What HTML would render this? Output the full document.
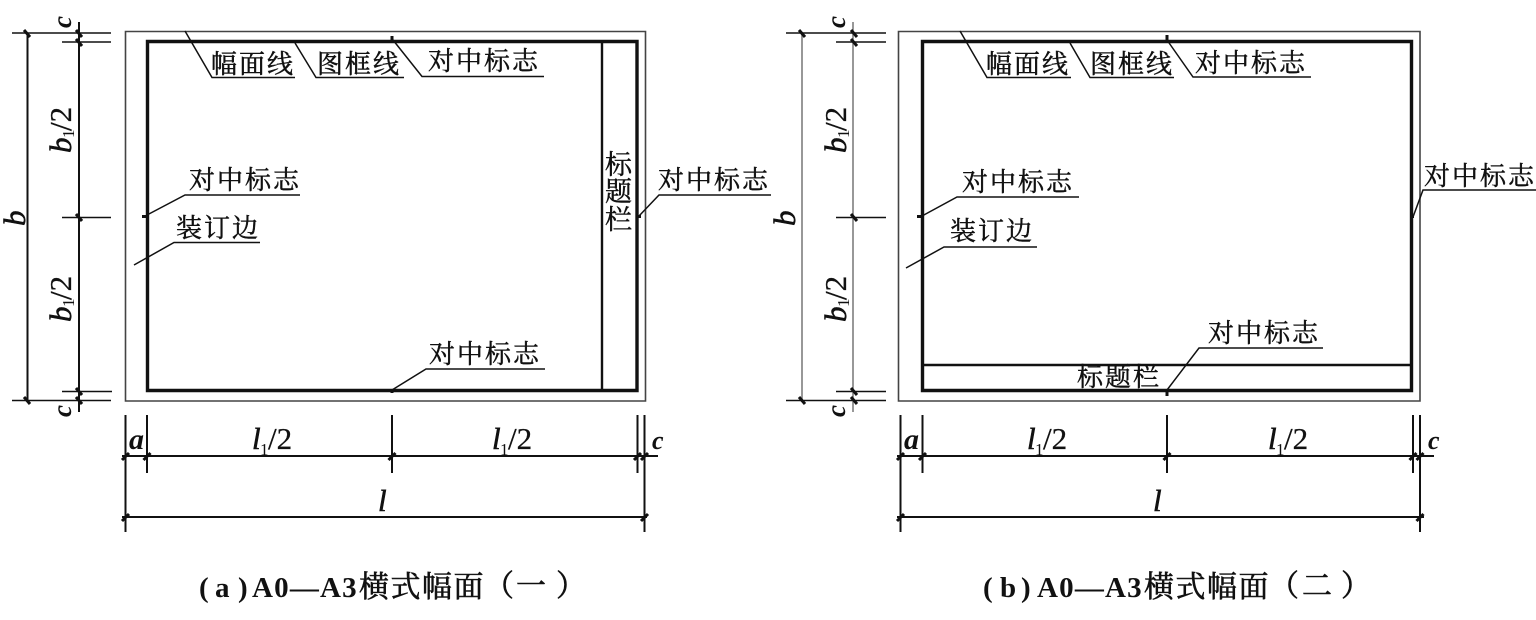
<!DOCTYPE html>
<html><head><meta charset="utf-8"><style>
html,body{margin:0;padding:0;background:#fff;width:1536px;height:620px;overflow:hidden}
svg{display:block}
.l{font-family:"Liberation Serif","Noto Serif CJK SC",serif;font-size:26px;letter-spacing:2px;fill:#111;stroke:#111;stroke-width:.45}
.v{font-family:"Liberation Serif","Noto Serif CJK SC",serif;font-size:27px;fill:#111;stroke:#111;stroke-width:.45}
.d{font-family:"Liberation Serif",serif;font-size:30px;fill:#111;font-style:italic;font-weight:bold}
.i{font-family:"Liberation Serif",serif;font-size:31px;fill:#111;font-style:italic;stroke:#111;stroke-width:.6}
.n{font-family:"Liberation Serif",serif;font-size:31px;fill:#111;stroke:#111;stroke-width:.3}
.s{font-family:"Liberation Serif",serif;font-size:17px;fill:#111}
.capl{font-family:"Liberation Serif",serif;font-size:29px;fill:#111;font-weight:bold}
.capc{font-family:"Liberation Serif","Noto Serif CJK SC",serif;font-size:30px;fill:#111;stroke:#111;stroke-width:.6}
.th{fill:none;stroke:#111;stroke-width:3.4}
.o{fill:none;stroke:#444;stroke-width:1.6}
.t{stroke:#111;stroke-width:1.5;fill:none}
.m{stroke:#111;stroke-width:2;fill:none}
.k{stroke:#111;stroke-width:3;fill:none}
</style></head><body>
<svg width="1536" height="620" viewBox="0 0 1536 620" xmlns="http://www.w3.org/2000/svg">
<rect width="1536" height="620" fill="#fff"/>

<!-- PANEL A -->
<path class="o" d="M125.5 31.5H645.5V401H125.5Z"/>
<path class="th" d="M147.5 41.5H637V390.5H147.5Z"/>
<path class="m" style="stroke-width:2.4" d="M602 41V390"/>
<path class="k" d="M392 36V41M392 389V393M142 216.5H147M637 216.5H641"/>
<path class="t" d="M12 33H111M62 42H111M62 217.5H111M62 391.5H112M12 400.5H111"/>
<path class="m" d="M27.5 33V401M79 22V412"/>
<path class="k" d="M24 30L30 37M76 30L82 37M76 39L82 46M76 214L82 221M76 388L82 395M76 397L82 404M24 397L30 404"/>
<path class="m" d="M125.5 415V532M147 415V473M392 415V473M637.5 415V473M644.5 415V532M122 456H658M122 517H647"/>
<path class="k" d="M122 460L129 453M143.5 460L150.5 453M388.5 460L395.5 453M634 460L641 453M641 460L648 453M122 521L129 514M641 521L648 514"/>
<path class="t" d="M185 31L212 77.5H295M295 43L316 77.5H404M393 40L422 76.5H544M147 215L185 195H300M134 265L174 242.5H260M639 216L659 195H771M392 390L426 369H545"/>
<text class="l" x="211" y="73">幅面线</text>
<text class="l" x="317" y="73">图框线</text>
<text class="l" x="428" y="70">对中标志</text>
<text class="l" x="189" y="189">对中标志</text>
<text class="l" x="176" y="237">装订边</text>
<text class="l" x="658" y="189">对中标志</text>
<text class="l" x="429" y="363">对中标志</text>
<text class="v" x="605" y="174">标</text>
<text class="v" x="605" y="201">题</text>
<text class="v" x="605" y="229">栏</text>
<text class="i" transform="translate(25,226) rotate(-90)">b</text>
<text class="d" transform="translate(71,28) rotate(-90)" style="font-size:27px">c</text>
<text class="d" transform="translate(71,417) rotate(-90)" style="font-size:27px">c</text>
<g transform="translate(71,153) rotate(-90)"><text class="i" x="0" y="0">b</text><text class="s" x="15" y="3">1</text><text class="n" x="22" y="0">/2</text></g>
<g transform="translate(71,322) rotate(-90)"><text class="i" x="0" y="0">b</text><text class="s" x="15" y="3">1</text><text class="n" x="22" y="0">/2</text></g>
<text class="d" x="129" y="449">a</text>
<text class="d" x="652" y="449" style="font-size:26px">c</text>
<g><text class="i" x="252" y="449">l</text><text class="s" x="260" y="455">1</text><text class="n" x="268" y="449">/2</text></g>
<g><text class="i" x="492" y="449">l</text><text class="s" x="500" y="455">1</text><text class="n" x="508" y="449">/2</text></g>
<text class="i" x="378" y="511">l</text>

<text class="capl" x="199" y="597">(</text><text class="capl" x="215" y="597">a</text><text class="capl" x="238" y="597">)</text>
<text class="capl" x="252" y="597" style="letter-spacing:1.2px">A0—A3</text>
<text class="capc" x="359" y="597" style="letter-spacing:1.5px">横式幅面</text>
<text class="capc" x="484" y="596">（</text><text class="capc" x="516" y="596">一</text><text class="capc" x="556" y="596">）</text>

<!-- PANEL B -->
<path class="o" d="M898.5 31.5H1420V401H898.5Z"/>
<path class="th" d="M922.5 41.5H1411.5V390.5H922.5Z"/>
<path class="m" style="stroke-width:2.4" d="M922 365H1411"/>
<path class="k" d="M1167 35V41M1167 389V396M917 216.5H922M1411 216.5H1414"/>
<path class="t" d="M786 33H886M836 42H886M836 217.5H886M836 391.5H886M786 400.5H886"/>
<path class="t" style="stroke:#777" d="M802 33V401M853 22V412"/>
<path class="k" d="M799 30L805 37M851 30L857 37M851 39L857 46M851 214L857 221M851 388L857 395M851 397L857 404M799 397L805 404"/>
<path class="m" d="M900.5 415V532M922.5 415V473M1167 415V473M1413 415V473M1420 415V532M897 456H1434M897 517H1424"/>
<path class="k" d="M897 460L904 453M919 460L926 453M1163.5 460L1170.5 453M1409.5 460L1416.5 453M1416.5 460L1423.5 453M897 521L904 514M1416.5 521L1423.5 514"/>
<path class="t" d="M960 31L987 77.5H1071M1070 43L1090 77.5H1174M1167 40L1193 77H1311M922 216L957 197H1079M906 268L944 247H1037M1413 217L1423 190H1536M1167 390L1199 348H1323"/>
<text class="l" x="986" y="73">幅面线</text>
<text class="l" x="1090" y="73">图框线</text>
<text class="l" x="1195" y="72">对中标志</text>
<text class="l" x="962" y="191">对中标志</text>
<text class="l" x="950" y="240">装订边</text>
<text class="l" x="1424" y="185">对中标志</text>
<text class="l" x="1208" y="342">对中标志</text>
<text class="l" x="1077" y="386">标题栏</text>
<text class="i" transform="translate(795,226) rotate(-90)">b</text>
<text class="d" transform="translate(845,28) rotate(-90)" style="font-size:27px">c</text>
<text class="d" transform="translate(845,417) rotate(-90)" style="font-size:27px">c</text>
<g transform="translate(846,153) rotate(-90)"><text class="i" x="0" y="0">b</text><text class="s" x="15" y="3">1</text><text class="n" x="22" y="0">/2</text></g>
<g transform="translate(846,322) rotate(-90)"><text class="i" x="0" y="0">b</text><text class="s" x="15" y="3">1</text><text class="n" x="22" y="0">/2</text></g>
<text class="d" x="904" y="449">a</text>
<text class="d" x="1428" y="449" style="font-size:26px">c</text>
<g><text class="i" x="1027" y="449">l</text><text class="s" x="1035" y="455">1</text><text class="n" x="1043" y="449">/2</text></g>
<g><text class="i" x="1268" y="449">l</text><text class="s" x="1276" y="455">1</text><text class="n" x="1284" y="449">/2</text></g>
<text class="i" x="1153" y="511">l</text>

<text class="capl" x="983" y="597">(</text><text class="capl" x="1000" y="597">b</text><text class="capl" x="1021" y="597">)</text>
<text class="capl" x="1037" y="597" style="letter-spacing:1.2px">A0—A3</text>
<text class="capc" x="1144" y="597" style="letter-spacing:1.5px">横式幅面</text>
<text class="capc" x="1269" y="596">（</text><text class="capc" x="1302" y="596">二</text><text class="capc" x="1341" y="596">）</text>
</svg>
</body></html>
